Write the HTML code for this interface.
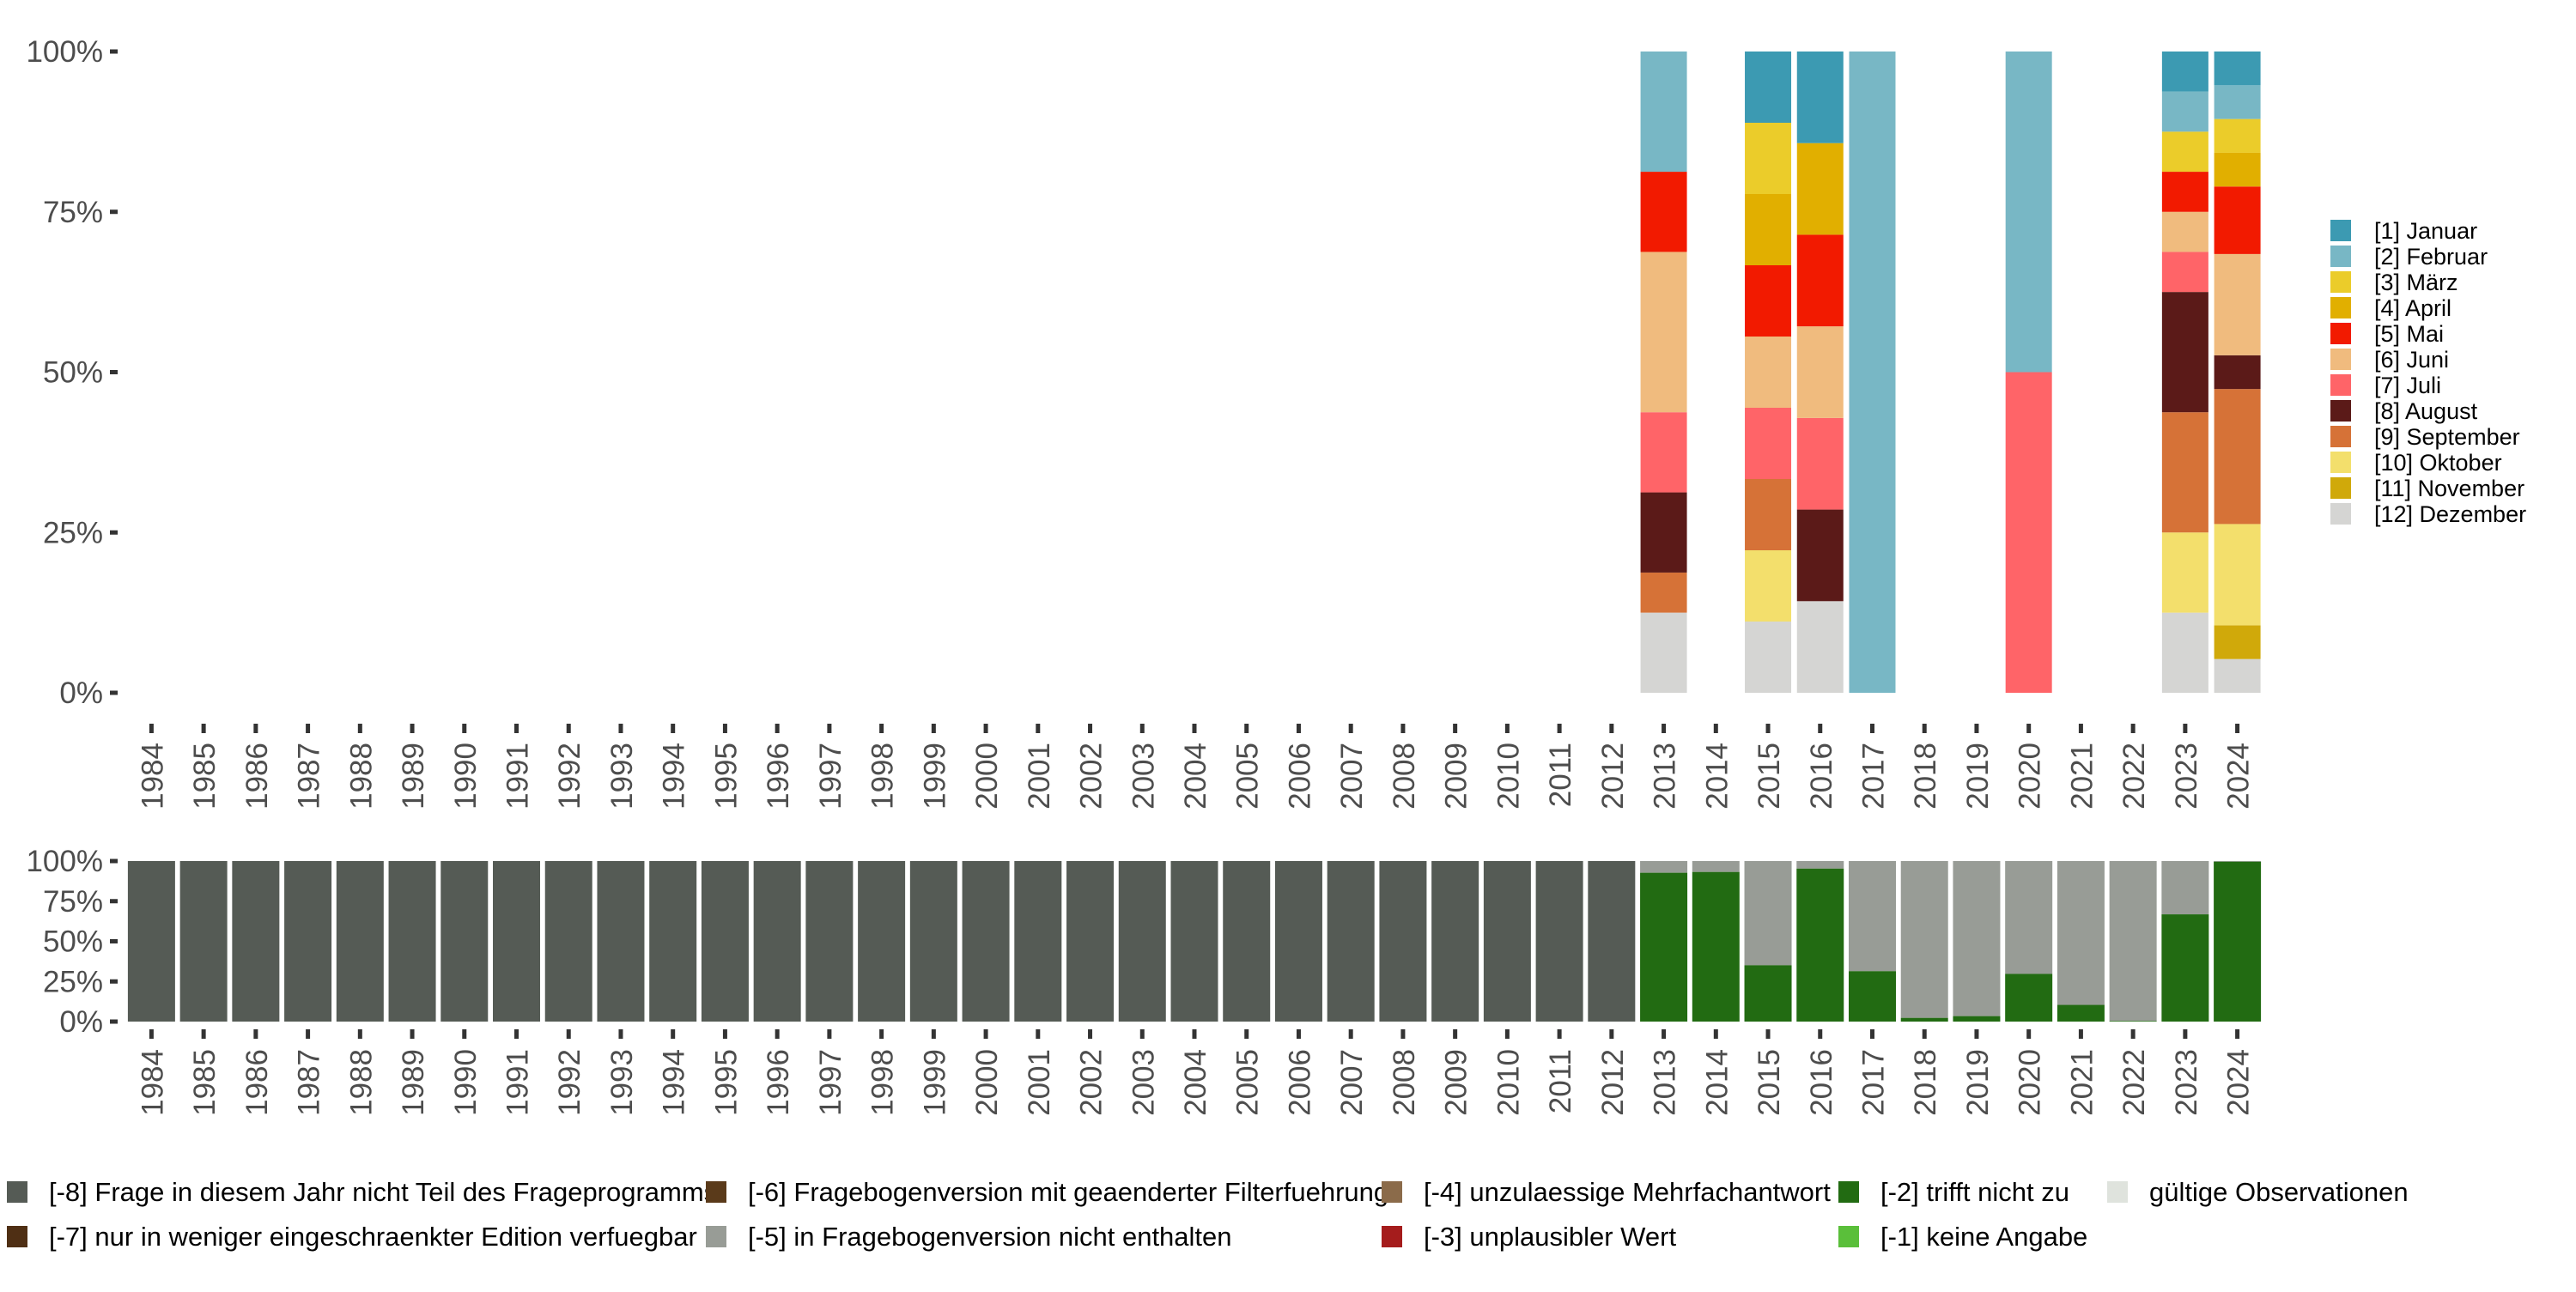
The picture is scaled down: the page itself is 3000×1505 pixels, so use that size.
<!DOCTYPE html>
<html><head><meta charset="utf-8">
<style>
body{margin:0;background:#fff;width:3000px;height:1500px;overflow:hidden}
svg text{font-family:"Liberation Sans","DejaVu Sans",sans-serif}
</style></head>
<body>
<svg id="chart" width="3000" height="1500" xmlns="http://www.w3.org/2000/svg"></svg>
<script>
const years = [];
for (let y = 1984; y <= 2024; y++) years.push(String(y));
const months = ["[1] Januar","[2] Februar","[3] März","[4] April","[5] Mai","[6] Juni","[7] Juli","[8] August","[9] September","[10] Oktober","[11] November","[12] Dezember"];
const monthColors = ["#3c9ab2","#78b7c5","#ebcc2a","#e1af00","#f21a00","#f0bb7e","#ff6468","#5b1a18","#d67237","#f3df6c","#d0a90a","#d5d5d3"];
// counts per month (Jan..Dez) for years with data
const monthYears = ["2013","2015","2016","2017","2020","2023","2024"];
const m2013 = [0,3,0,0,2,4,2,2,1,0,0,2];
const m2015 = [1,0,1,1,1,1,1,0,1,1,0,1];
const m2016 = [1,0,0,1,1,1,1,1,0,0,0,1];
const m2017 = [0,1,0,0,0,0,0,0,0,0,0,0];
const m2020 = [0,1,0,0,0,0,1,0,0,0,0,0];
const m2023 = [1,1,1,0,1,1,1,3,3,2,0,2];
const m2024 = [1,1,1,1,2,3,0,1,4,3,1,1];
const monthData = [m2013,m2015,m2016,m2017,m2020,m2023,m2024];
// bottom chart: share "[-2] trifft nicht zu" (green), remaining is [-5]; before 2013 all [-8]
const validYears = ["2013","2014","2015","2016","2017","2018","2019","2020","2021","2022","2023","2024"];
const greenShare = [0.927,0.932,0.351,0.953,0.314,0.023,0.034,0.297,0.104,0.004,0.668,0.996];
const yTicks = [0,0.25,0.5,0.75,1];
const yTickLabels = ["0%","25%","50%","75%","100%"];
const bottomLegend = [
 ["[-8] Frage in diesem Jahr nicht Teil des Frageprogramms","#555b55"],
 ["[-7] nur in weniger eingeschraenkter Edition verfuegbar","#4f2f14"],
 ["[-6] Fragebogenversion mit geaenderter Filterfuehrung","#5a3a1a"],
 ["[-5] in Fragebogenversion nicht enthalten","#989c96"],
 ["[-4] unzulaessige Mehrfachantwort","#8b6b4a"],
 ["[-3] unplausibler Wert","#a51c1c"],
 ["[-2] trifft nicht zu","#226b12"],
 ["[-1] keine Angabe","#5abf3a"],
 ["gültige Observationen","#dfe3dd"]
];

const NS = "http://www.w3.org/2000/svg";
const svg = document.getElementById("chart");
function mk(tag, attrs, parent) {
  const e = document.createElementNS(NS, tag);
  for (const k in attrs) e.setAttribute(k, attrs[k]);
  (parent || svg).appendChild(e);
  return e;
}
const BW = 54;
function xC(year) { return 176.4 + years.indexOf(year) * 60.73; }
const topY = v => 807 - v * 747;
const botY = v => 1190 - v * 187;

function axes(yf, tickBase, labelBase, name) {
  const g = mk("g", {});
  
  
  yTicks.forEach((t, i) => {
    const y = yf(t);
    mk("rect", {x:128, y:y-2.5, width:9, height:5, fill:"#333"}, g);
    const tx = mk("text", {x:120, y:y+12, "text-anchor":"end", "font-size":35, fill:"#4d4d4d"}, g);
    tx.textContent = yTickLabels[i];
    
    
  });
  years.forEach(yr => {
    const x = xC(yr);
    mk("rect", {x:x-2.5, y:tickBase, width:5, height:11, fill:"#333"}, g);
    const tx = mk("text", {x:0, y:0, "text-anchor":"end", "font-size":35, fill:"#4d4d4d",
      transform:`translate(${x+13},${labelBase}) rotate(-90)`}, g);
    tx.textContent = yr;
    
    
  });
}

// top chart
axes(topY, 843, 865, "top-axes");
monthYears.forEach((yr, yi) => {
  const counts = monthData[yi];
  const total = counts.reduce((a,b)=>a+b,0);
  let cum = 0;
  for (let m = 11; m >= 0; m--) {
    if (!counts[m]) continue;
    const v0 = cum / total, v1 = (cum + counts[m]) / total;
    cum += counts[m];
    const r = mk("rect", {x:xC(yr)-BW/2, y:topY(v1), width:BW, height:topY(v0)-topY(v1), fill:monthColors[m]});
    
    
  }
});
// right legend
months.forEach((m, i) => {
  const y = 256 + i * 30;
  const r = mk("rect", {x:2714, y:y, width:24, height:25, fill:monthColors[i]});
  
  
  const t = mk("text", {x:2765, y:y+22, "font-size":27, fill:"#000"});
  t.textContent = m;
  
  
});

// bottom chart
axes(botY, 1199, 1222, "bottom-axes");
years.forEach(yr => {
  const vi = validYears.indexOf(yr);
  if (vi < 0) {
    const r = mk("rect", {x:xC(yr)-27.5, y:botY(1), width:55, height:botY(0)-botY(1), fill:"#555b55"});
    
    
  } else {
    const g = greenShare[vi];
    const r1 = mk("rect", {x:xC(yr)-27.5, y:botY(1), width:55, height:botY(g)-botY(1), fill:"#989c96"});
    
    
    const r2 = mk("rect", {x:xC(yr)-27.5, y:botY(g), width:55, height:botY(0)-botY(g), fill:"#226b12"});
    
    
  }
});

// bottom legend
const colX = [8, 822, 1609, 2141, 2454];
bottomLegend.forEach((e, i) => {
  const col = Math.floor(i / 2), row = i % 2;
  const x = colX[col], y = 1376 + row * 52;
  const r = mk("rect", {x:x, y:y, width:24, height:25, fill:e[1]});
  
  
  const t = mk("text", {x:x+49, y:y+23, "font-size":31, fill:"#000"});
  t.textContent = e[0];
  
  
});
</script>
</body></html>
